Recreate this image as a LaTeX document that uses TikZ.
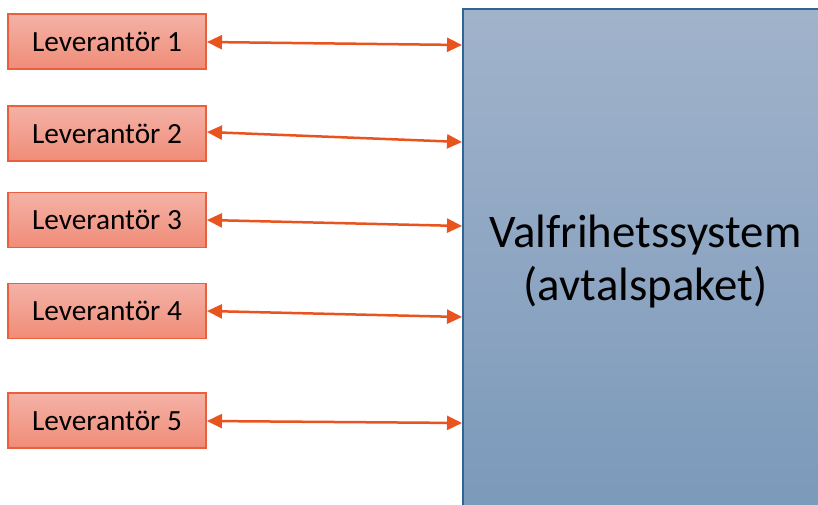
\documentclass[tikz,border=0pt]{standalone}
\usepackage{fontspec}
\setmainfont{Carlito}
\usetikzlibrary{arrows.meta}
\definecolor{suptop}{RGB}{244,178,166}
\definecolor{supbot}{RGB}{240,140,120}
\definecolor{supline}{RGB}{234,96,60}
\definecolor{sysTop}{RGB}{161,179,203}
\definecolor{sysBot}{RGB}{123,153,186}
\definecolor{sysLine}{RGB}{48,100,150}
\definecolor{arrowc}{RGB}{232,83,30}
\tikzset{
  supbox/.style={draw=supline, line width=1.3pt, top color=suptop, bottom color=supbot,
    minimum width=198pt, minimum height=55pt, inner sep=0pt,
    font=\fontsize{29.3}{33}\selectfont},
  sysbox/.style={draw=sysLine, line width=1.5pt, top color=sysTop, bottom color=sysBot,
    minimum width=365pt, minimum height=506pt, inner sep=0pt, align=center,
    font=\fontsize{46.8}{53}\selectfont},
  link/.style={draw=arrowc, line width=2.5pt,
    {Triangle[length=15pt,width=14pt]}-{Triangle[length=15pt,width=14pt]}}
}
\begin{document}
\begin{tikzpicture}[x=1pt,y=-1pt]
\useasboundingbox (0,0) rectangle (818,505);
\clip (0,0) rectangle (818,505);
\fill[white] (0,0) rectangle (818,505);
\node[sysbox] (sys) at (645.5,262) {Valfrihetssystem\\(avtalspaket)};
\node[supbox] (l1) at (107,41.5) {Leverantör 1};
\node[supbox] (l2) at (107,133.5) {Leverantör 2};
\node[supbox] (l3) at (107,220) {Leverantör 3};
\node[supbox] (l4) at (107,311) {Leverantör 4};
\node[supbox] (l5) at (107,420.5) {Leverantör 5};
\coordinate (a1) at (207,42);
\coordinate (a2) at (207,132);
\coordinate (a3) at (207,220);
\coordinate (a4) at (207,311);
\coordinate (a5) at (207,421);
\coordinate (r1) at (462,45);
\coordinate (r2) at (462,142);
\coordinate (r3) at (462,226);
\coordinate (r4) at (462,317);
\coordinate (r5) at (462,423);
\draw[link] (a1) -- (r1);
\draw[link] (a2) -- (r2);
\draw[link] (a3) -- (r3);
\draw[link] (a4) -- (r4);
\draw[link] (a5) -- (r5);
\end{tikzpicture}
\end{document}
